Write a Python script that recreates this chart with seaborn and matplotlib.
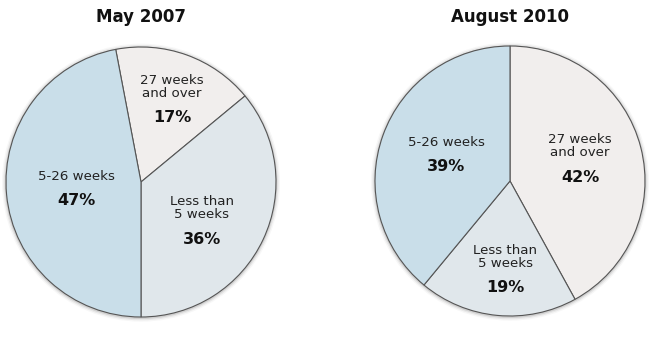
import matplotlib
matplotlib.use("Agg")
import matplotlib.pyplot as plt
import seaborn as sns

sns.set_theme(style="white")
plt.rcParams['font.family'] = ['DejaVu Sans']

categories = ["27 weeks\nand over", "Less than\n5 weeks", "5-26 weeks"]
titles = ["May 2007", "August 2010"]
values_2007 = [17, 36, 47]
values_2010 = [42, 19, 39]
colors = ["#f1eeed", "#e0e7eb", "#c9dee9"]

# layout: pie centres (px) and label-block centres (px offset from pie centre, y up)
W, H = 650, 350
R = 135.0
centers = [(141, 182), (510, 181)]
label_pos = [
    [(31, 95), (61, -26), (-65, 5)],
    [(70, 35), (-5, -76), (-64, 38)],
]

fig = plt.figure(figsize=(6.5, 3.5), dpi=100)

for k, ((cx, cy), vals, title) in enumerate(zip(centers, [values_2007, values_2010], titles)):
    half = 140.0
    ax = fig.add_axes([(cx - half) / W, (H - (cy + half)) / H, 2 * half / W, 2 * half / H])
    lim = half / R
    total = sum(vals)
    start = -90 + 360 * sum(vals[:-1]) / total if k == 0 else 90
    for i, a in enumerate([0.10, 0.06, 0.03]):
        ax.add_patch(plt.Circle((0, -0.005), 1.0 + 0.010 * (i + 1), color="#000000",
                                alpha=a, lw=0, zorder=0))
    wedges, _ = ax.pie(vals, colors=colors, startangle=start, counterclock=False,
                       wedgeprops=dict(edgecolor="#555555", linewidth=0.8), radius=1.0)
    for w in wedges:
        w.set_zorder(2)
    for lab, v, (dx, dy) in zip(categories, vals, label_pos[k]):
        two = "\n" in lab
        ax.text(dx / R, dy / R, lab, ha="center", va="center", fontsize=9.6,
                color="#222222", linespacing=1.05, zorder=3)
        gap = 31 if two else 23.5
        ax.text(dx / R, (dy - gap) / R, f"{v}%", ha="center", va="center",
                fontsize=11.5, fontweight="bold", color="#111111", zorder=3)
    ax.set_xlim(-lim, lim)
    ax.set_ylim(-lim, lim)
    ax.set_aspect("equal")
    ax.axis("off")
    fig.text(cx / W, 1 - 17 / H, title, ha="center", va="center",
             fontsize=12, fontweight="bold", color="#111111")

fig.savefig("out.png", dpi=100, facecolor="white")
